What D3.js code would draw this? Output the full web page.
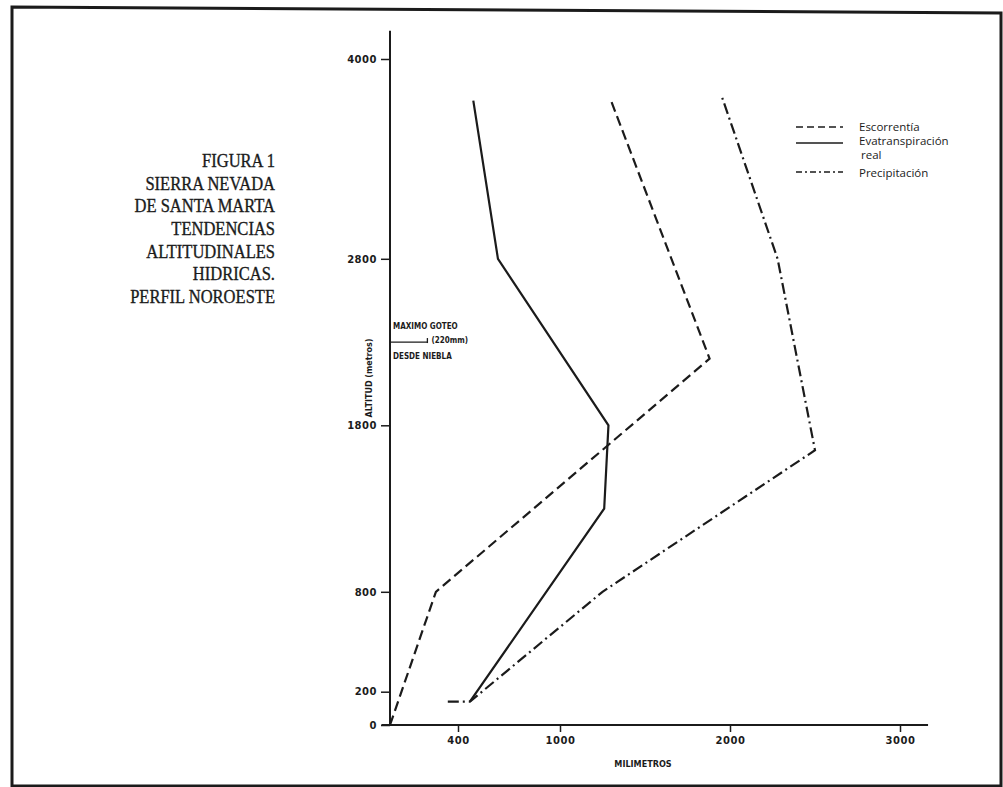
<!DOCTYPE html>
<html>
<head>
<meta charset="utf-8">
<script src="https://cdn.jsdelivr.net/npm/d3@7"></script>
<style>
  body { margin: 0; background: #fff; }
  svg { display: block; }
</style>
</head>
<body>
<div id="chart"></div>
<script>
// ----------------------------------------------------------------------------------------------------
// DATA - altitud (m) vs milimetros
// ----------------------------------------------------------------------------------------------------
var altitudeTicks = [0, 200, 800, 1800, 2800, 4000];
var mmTicks = [400, 1000, 2000, 3000];

// [milimetros, altitud]
var escorrentia = [[0, 0], [270, 800], [1880, 2200], [1300, 3750]];
var evatranspiracion = [[470, 140], [1260, 1300], [1285, 1800], [635, 2800], [490, 3750]];
var precipitacion = [[340, 140], [470, 140], [1250, 800], [2500, 1650], [2280, 2800], [1950, 3780]];

var titleLines = ["FIGURA 1", "SIERRA NEVADA", "DE SANTA MARTA", "TENDENCIAS",
                  "ALTITUDINALES", "HIDRICAS.", "PERFIL NOROESTE"];
var legendLabels = ["Escorrentía", "Evatranspiración", "Precipitación"];
var goteoMm = 220;
var goteoAlt = 2300;

function chartHidrico_Draw(ele) {
    ele = "#" + ele;
    d3.select(ele + " svg").remove();

    var w = 1003, h = 787;
    var ink = "#1b1b1b";

    var svg = d3.select(ele)
        .append("svg")
        .attr("width", w)
        .attr("height", h);

    // Frame (scanned page, slightly skewed)
    svg.append("path")
        .attr("d", "M12,7 L1001,13 L1001,786 L12,786 Z")
        .attr("fill", "none")
        .attr("stroke", ink)
        .attr("stroke-width", 3);

    // Scales
    var x = d3.scaleLinear().domain([0, 3000]).range([390, 900]);
    var y = d3.scaleLinear().domain([0, 4000]).range([725, 59]);

    // Axes
    var yAxis = d3.axisLeft(y)
        .tickValues(altitudeTicks)
        .tickSize(9)
        .tickPadding(4)
        .tickFormat(d3.format("d"));
    var gy = svg.append("g")
        .attr("transform", "translate(" + x(0) + ",0)")
        .call(yAxis);
    gy.select(".domain").remove();
    gy.append("line")
        .attr("x1", 0).attr("x2", 0)
        .attr("y1", y(4170)).attr("y2", y(0))
        .attr("stroke", ink).attr("stroke-width", 2);

    var xAxis = d3.axisBottom(x)
        .tickValues(mmTicks)
        .tickSize(7)
        .tickPadding(5)
        .tickFormat(d3.format("d"));
    var gx = svg.append("g")
        .attr("transform", "translate(0," + y(0) + ")")
        .call(xAxis);
    gx.select(".domain").remove();
    gx.append("line")
        .attr("x1", x(-50)).attr("x2", x(3165))
        .attr("y1", 0).attr("y2", 0)
        .attr("stroke", ink).attr("stroke-width", 2);

    [gx, gy].forEach(function(g) {
        g.selectAll(".tick line").attr("stroke", ink).attr("stroke-width", 1.5);
        g.selectAll(".tick text")
            .attr("fill", ink)
            .attr("font-family", "DejaVu Sans")
            .attr("font-weight", "bold")
            .attr("font-size", "10px")
            .attr("letter-spacing", "0.5px");
    });

    // Axis titles
    svg.append("text")
        .attr("transform", "translate(372,378) rotate(-90)")
        .attr("text-anchor", "middle")
        .attr("font-family", "DejaVu Sans")
        .attr("font-weight", "bold")
        .attr("font-size", "8px")
        .attr("fill", ink)
        .text("ALTITUD (metros)");

    svg.append("text")
        .attr("x", 643)
        .attr("y", 767)
        .attr("text-anchor", "middle")
        .attr("font-family", "DejaVu Sans Condensed, DejaVu Sans")
        .attr("font-weight", "bold")
        .attr("font-size", "9px")
        .attr("fill", ink)
        .text("MILIMETROS");

    // Series
    var line = d3.line()
        .x(function(d) { return x(d[0]); })
        .y(function(d) { return y(d[1]); });

    var series = [
        { data: escorrentia, dash: "10,5" },
        { data: evatranspiracion, dash: null },
        { data: precipitacion, dash: "11,4,2,4" }
    ];

    svg.selectAll(".serie")
        .data(series)
        .enter()
        .append("path")
        .attr("class", "serie")
        .attr("d", function(d) { return line(d.data); })
        .attr("fill", "none")
        .attr("stroke", ink)
        .attr("stroke-width", 2.2)
        .attr("stroke-dasharray", function(d) { return d.dash; });

    // Annotation: maximo goteo desde niebla
    var gy0 = y(goteoAlt);
    svg.append("line")
        .attr("x1", x(0)).attr("x2", x(goteoMm))
        .attr("y1", gy0).attr("y2", gy0)
        .attr("stroke", ink).attr("stroke-width", 1.3);
    svg.append("line")
        .attr("x1", x(goteoMm)).attr("x2", x(goteoMm))
        .attr("y1", gy0 - 4).attr("y2", gy0 + 1)
        .attr("stroke", ink).attr("stroke-width", 1.3);

    var annot = [
        { t: "MAXIMO GOTEO", x: x(0) + 3, y: gy0 - 13 },
        { t: "(220mm)", x: x(goteoMm) + 4, y: gy0 + 1 },
        { t: "DESDE NIEBLA", x: x(0) + 3, y: gy0 + 17 }
    ];
    svg.selectAll(".annot")
        .data(annot)
        .enter()
        .append("text")
        .attr("class", "annot")
        .attr("x", function(d) { return d.x; })
        .attr("y", function(d) { return d.y; })
        .attr("font-family", "DejaVu Sans Condensed, DejaVu Sans")
        .attr("font-weight", "bold")
        .attr("font-size", "8px")
        .attr("fill", ink)
        .text(function(d) { return d.t; });

    // Legend
    var legend = svg.append("g").attr("transform", "translate(796,0)");
    var legY = [127, 143, 172];
    var legBase = [131, 145, 177];
    legend.selectAll(".legline")
        .data(series)
        .enter()
        .append("line")
        .attr("x1", 0).attr("x2", 47)
        .attr("y1", function(d, i) { return legY[i]; })
        .attr("y2", function(d, i) { return legY[i]; })
        .attr("stroke", ink)
        .attr("stroke-width", 1.3)
        .attr("stroke-dasharray", function(d, i) { return i === 0 ? "7,4" : (i === 2 ? "6,3,2,3" : null); });

    legend.selectAll(".leglabel")
        .data(legendLabels)
        .enter()
        .append("text")
        .attr("x", 63)
        .attr("y", function(d, i) { return legBase[i]; })
        .attr("font-family", "Open Sans")
        .attr("font-size", "11.5px")
        .attr("fill", ink)
        .text(function(d) { return d; });
    legend.append("text")
        .attr("x", 65)
        .attr("y", 159)
        .attr("font-family", "Open Sans")
        .attr("font-size", "11.5px")
        .attr("fill", ink)
        .text("real");

    // Title
    var title = svg.append("g")
        .attr("transform", "translate(275,0) scale(0.87,1)");
    title.selectAll(".title")
        .data(titleLines)
        .enter()
        .append("text")
        .attr("class", "title")
        .attr("x", 0)
        .attr("y", function(d, i) { return 167 + i * 22.7; })
        .attr("text-anchor", "end")
        .attr("font-family", "Liberation Serif")
        .attr("font-size", "19px")
        .attr("fill", ink)
        .attr("stroke", ink)
        .attr("stroke-width", 0.35)
        .text(function(d) { return d; });
}

chartHidrico_Draw("chart");
</script>
</body>
</html>
